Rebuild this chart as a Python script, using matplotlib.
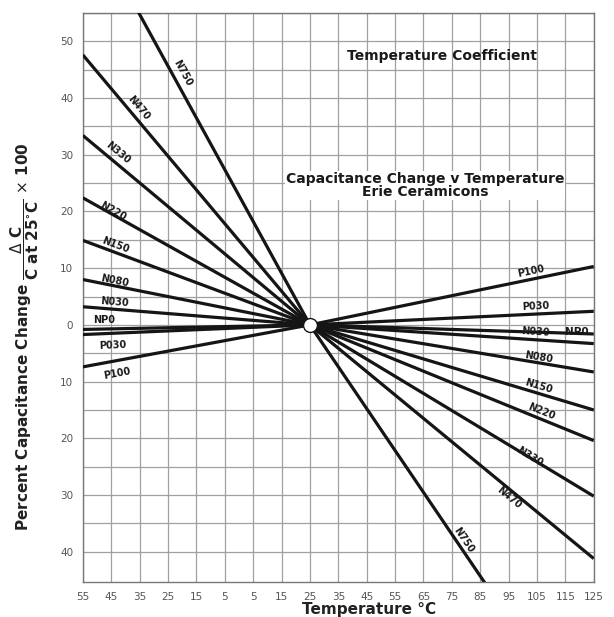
import matplotlib
matplotlib.use("Agg")
import matplotlib.pyplot as plt
import numpy as np

# ---- data ----
temps = [-55, 25, 125]
series_names = ["N750", "N470", "N330", "N220", "N150", "N080", "N030", "NP0", "P030", "P100"]
n750 = [73.0, 0.0, -73.8]
n470 = [47.6, 0.0, -41.2]
n330 = [33.4, 0.0, -30.2]
n220 = [22.4, 0.0, -20.4]
n150 = [14.9, 0.0, -15.0]
n080 = [8.0, 0.0, -8.3]
n030 = [3.2, 0.0, -3.3]
np0 = [-0.8, 0.0, -1.6]
p030 = [-1.7, 0.0, 2.4]
p100 = [-7.4, 0.0, 10.3]
series_values = [n750, n470, n330, n220, n150, n080, n030, np0, p030, p100]

x_ticks = list(range(-55, 126, 10))
x_tick_labels = [str(abs(t)) for t in x_ticks]
y_ticks = list(range(-40, 51, 10))
y_tick_labels = [str(abs(t)) for t in y_ticks]

# label anchor points (left side / right side), in data coordinates
left_label_pos = {
    "N750": (-20.0, 44.5), "N470": (-35.5, 38.3), "N330": (-42.5, 30.3),
    "N220": (-44.5, 20.0), "N150": (-43.5, 14.0), "N080": (-43.8, 7.8),
    "N030": (-43.8, 4.0), "NP0": (-47.5, 0.8), "P030": (-44.5, -3.6),
    "P100": (-43.0, -8.6),
}
right_label_pos = {
    "P100": (103.0, 9.4), "P030": (104.5, 3.3), "N030": (104.5, -1.2),
    "N080": (105.5, -5.8), "N150": (105.5, -10.8), "N220": (106.5, -15.2),
    "N330": (102.5, -23.2), "N470": (95.0, -30.5), "N750": (79.0, -38.0),
}

fig = plt.figure(figsize=(6.14, 6.17), dpi=100)
ax = fig.add_axes([0.135, 0.057, 0.832, 0.922])
ax.set_xlim(-55, 125)
ax.set_ylim(-45.3, 55)

# grid
for gx in range(-55, 126, 10):
    ax.axvline(gx, color="#a0a0a0", lw=0.9, zorder=1)
for gy in range(-40, 56, 5):
    ax.axhline(gy, color="#a0a0a0", lw=0.9, zorder=1)

for name, vals in zip(series_names, series_values):
    ax.plot(temps, vals, color="#151515", lw=2.3, solid_capstyle="butt", zorder=3)

# centre circle
ax.plot([25], [0], marker="o", markersize=10, markerfacecolor="white",
        markeredgecolor="#151515", markeredgewidth=1.0, zorder=5)

def seg_angle(vals, side):
    if side == "left":
        dx = temps[1] - temps[0]; dy = vals[1] - vals[0]
    else:
        dx = temps[2] - temps[1]; dy = vals[2] - vals[1]
    return np.degrees(np.arctan2(dy, dx))

lab_kw = dict(fontsize=7, fontweight="bold", color="#1a1a1a", ha="center",
              va="center", rotation_mode="anchor", transform_rotates_text=True, zorder=6)
for name, vals in zip(series_names, series_values):
    if name in left_label_pos:
        x, y = left_label_pos[name]
        ang = 0 if name == "NP0" else seg_angle(vals, "left")
        ax.text(x, y, name, rotation=ang, **lab_kw)
    if name in right_label_pos:
        x, y = right_label_pos[name]
        ax.text(x, y, name, rotation=seg_angle(vals, "right"), **lab_kw)
ax.text(119.0, -1.2, "NP0", fontsize=7.5, fontweight="bold", color="#1a1a1a",
        ha="center", va="center", zorder=6)

# titles
ax.text(71.5, 47.4, "Temperature Coefficient", fontsize=10, fontweight="bold",
        color="#1a1a1a", ha="center", va="center", zorder=6)
ax.text(65.5, 24.6, "Capacitance Change v Temperature\nErie Ceramicons", fontsize=10,
        fontweight="bold", color="#1a1a1a", ha="center", va="center",
        linespacing=0.9, zorder=6,
        bbox=dict(facecolor="white", edgecolor="none", pad=0.5))

ax.set_xticks(x_ticks)
ax.set_xticklabels(x_tick_labels)
ax.set_yticks(y_ticks)
ax.set_yticklabels(y_tick_labels)
ax.tick_params(length=0, labelsize=7.5, labelcolor="#555555", pad=7)
for s in ax.spines.values():
    s.set_color("#777777")
    s.set_linewidth(1.0)

ax.set_xlabel("Temperature °C", fontsize=11, fontweight="bold", color="#222222")
ax.xaxis.set_label_coords(0.56, -0.036)
ax.set_ylabel(r"Percent Capacitance Change $\dfrac{\Delta\ \mathbf{C}}{\mathbf{C\ at\ 25^{\circ}C}}$ $\times$ $\mathbf{100}$",
              fontsize=11, fontweight="bold", color="#222222")
ax.yaxis.set_label_coords(-0.082, 0.43)

fig.savefig("out.png", dpi=100)
